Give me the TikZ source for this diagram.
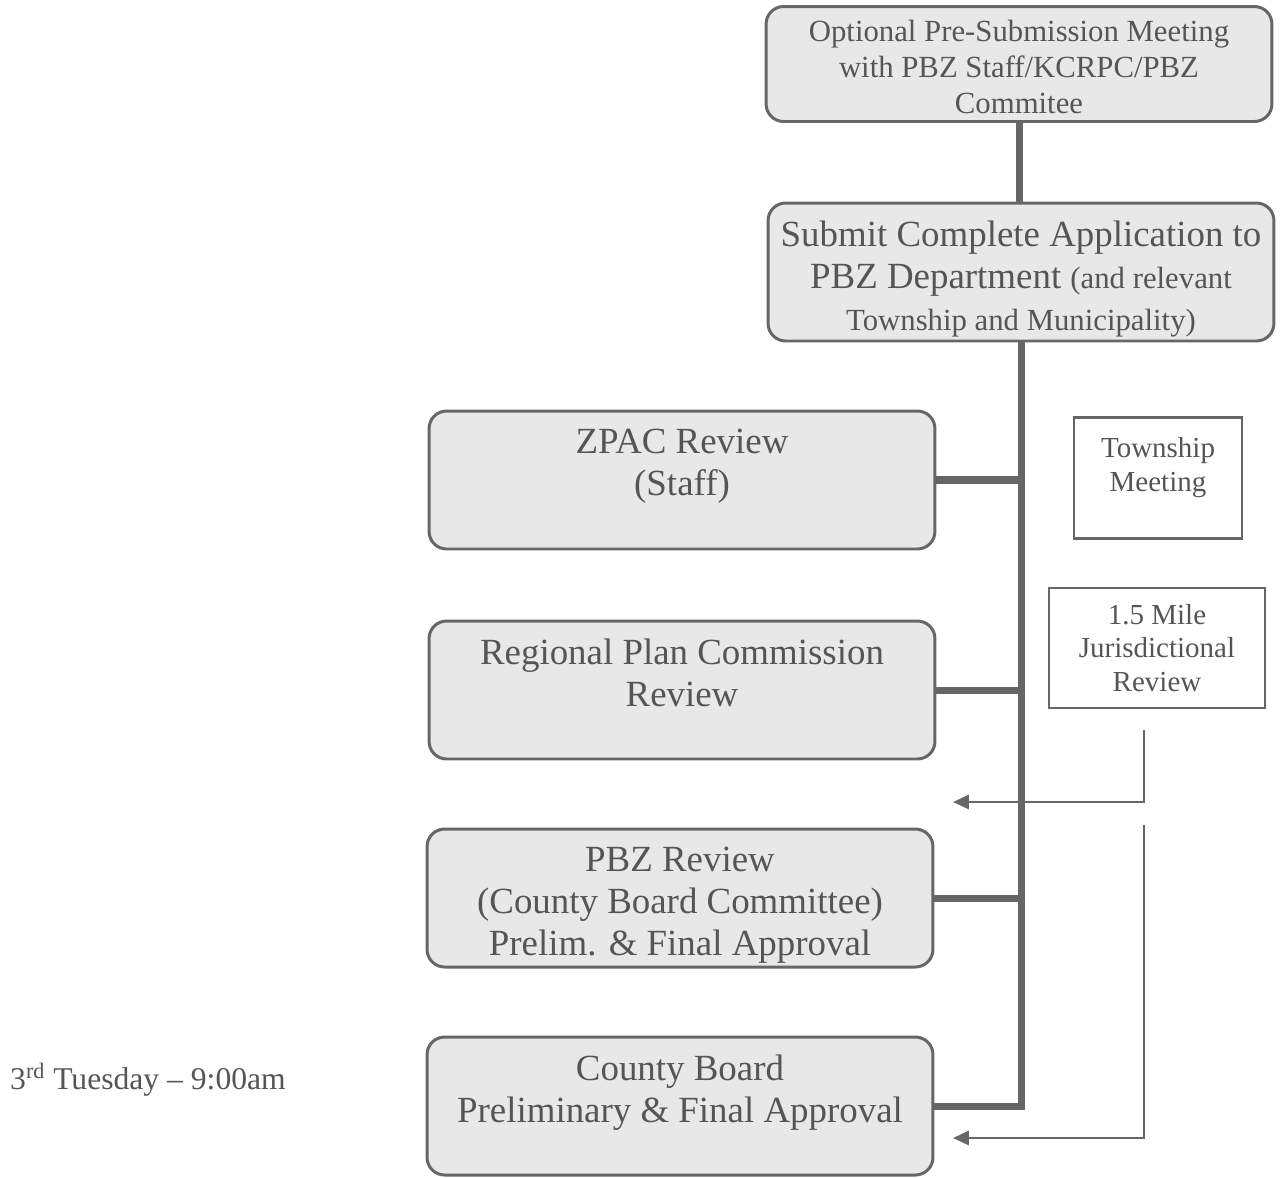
\documentclass[tikz,border=0pt]{standalone}
\usepackage{fontspec}
\setmainfont{Liberation Serif}
\usetikzlibrary{arrows.meta, positioning}

\definecolor{linegray}{HTML}{666666}
\definecolor{boxgray}{HTML}{E8E8E8}
\definecolor{textgray}{HTML}{555555}

\tikzset{
	stage/.style={draw=linegray, fill=boxgray, line width=1.7pt, rounded corners=10pt,
		minimum width=10.12cm, minimum height=2.76cm, text=textgray, align=center},
	heading/.style={anchor=north, align=center, text=textgray, yshift=-7.5pt},
	note/.style={draw=linegray, line width=1.3pt, minimum height=2.4cm, text=textgray, align=center},
	spine/.style={draw=linegray, line width=4pt},
	feed/.style={draw=linegray, line width=1.5pt, -{Triangle[length=9pt,width=8pt]}},
}
\newcommand{\bigtext}{\fontsize{21}{24}\selectfont}
\newcommand{\midtext}{\fontsize{17.5}{20.5}\selectfont}
\newcommand{\smalltext}{\fontsize{16.5}{19.3}\selectfont}

\begin{document}
\begin{tikzpicture}[x=0.02cm, y=-0.02cm]
		\useasboundingbox (0,0) rectangle (1280,1177);
		% top of the chain
		\node[stage, minimum height=2.3cm,
			label={[heading, font=\midtext, yshift=2.5pt]north:{Optional Pre-Submission Meeting\\with PBZ Staff/KCRPC/PBZ\\Commitee}}] (opt) at (1019,64) {};
		\node[stage, label={[heading, font=\bigtext]north:{Submit Complete Application to\\PBZ Department {\midtext(and relevant}\\{\midtext Township and Municipality)}}}] (submit) at (1021,272) {};
		% review steps
		\node[stage, label={[heading, font=\bigtext]north:{ZPAC Review\\(Staff)}}] (zpac) at (682,480) {};
		\node[stage, label={[heading, font=\bigtext]north:{Regional Plan Commission\\Review}}] (rpc) at (682,690) {};
		\node[stage, label={[heading, font=\bigtext]north:{PBZ Review\\(County Board Committee)\\Prelim. \& Final Approval}}] (pbz) at (680,898) {};
		\node[stage, label={[heading, font=\bigtext]north:{County Board\\Preliminary \& Final Approval}}] (county) at (680,1106) {};
		% side boxes
		\node[note, minimum width=3.36cm, minimum height=2.42cm,
			label={[heading, font=\smalltext, yshift=-1pt]north:{Township\\Meeting}}] (township) at (1158,478) {};
		\node[note, minimum width=4.32cm, font=\smalltext] (mile) at (1157,648)
			{1.5 Mile\\Jurisdictional\\Review};
		\node[text=textgray, font=\fontsize{18}{21}\selectfont] (tuesday) at (148,1080) {3\textsuperscript{rd} Tuesday -- 9:00am};
		% connectors
		\draw[spine] (opt.south) -- (opt.south |- submit.north);
		\draw[spine] (submit.south) |- (county.east);
		\draw[spine] (zpac.east) -- (zpac.east -| submit.south);
		\draw[spine] (rpc.east) -- (rpc.east -| submit.south);
		\draw[spine] (pbz.east) -- (pbz.east -| submit.south);
		\coordinate (jstart) at (1144,730);
		\coordinate (jend) at (953,802);
		\coordinate (kstart) at (1144,825);
		\coordinate (kend) at (953,1138);
		\draw[feed] (jstart) |- (jend);
		\draw[feed] (kstart) |- (kend);
	\end{tikzpicture}
\end{document}
